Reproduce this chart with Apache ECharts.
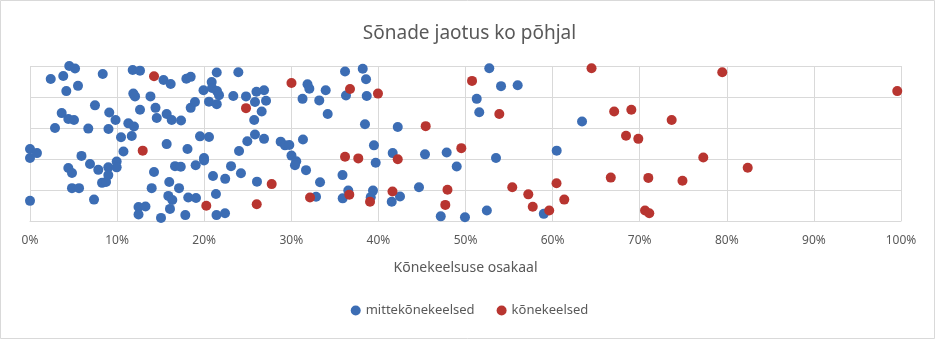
<!DOCTYPE html>
<html>
<head>
<meta charset="utf-8">
<script src="https://cdn.jsdelivr.net/npm/echarts@6/dist/echarts.min.js"></script>
<style>html,body{margin:0;padding:0;background:#fff;}#c{width:939px;height:341px;}</style>
</head>
<body>
<div id="c"></div>
<script>
const titleText = 'Sõnade jaotus ko põhjal';
const xAxisName = 'Kõnekeelsuse osakaal';
const seriesNames = ['mittekõnekeelsed', 'kõnekeelsed'];
const xTicks = [0,10,20,30,40,50,60,70,80,90,100];

const blueX = [0.00,0.00,0.80,0.00,2.38,2.87,3.64,3.82,4.17,4.40,4.40,4.51,4.82,4.82,5.05,5.17,5.51,5.63,5.91,6.69,6.89,7.35,7.46,7.84,8.35,8.27,8.73,8.99,8.99,9.01,9.10,9.82,9.95,9.95,10.45,10.73,11.29,11.68,11.79,11.86,11.94,12.06,12.46,12.46,12.63,12.63,
13.26,13.83,13.97,14.24,14.41,14.55,15.04,15.33,15.69,15.69,15.88,15.99,16.07,16.15,16.34,16.27,16.65,17.11,17.31,17.34,17.83,17.95,18.08,18.17,18.45,18.45,18.94,19.02,19.06,19.52,19.92,19.98,19.98,20.55,20.55,20.86,20.90,21.01,21.35,21.44,21.47,21.44,21.41,21.70,22.39,22.41,23.08,23.34,23.92,24.00,24.22,24.80,24.95,25.74,25.83,25.83,26.00,26.06,26.60,26.87,26.87,27.10,
28.78,29.28,29.77,30.02,30.57,30.42,31.29,31.34,31.69,31.86,32.07,32.84,33.21,33.30,33.95,34.18,35.88,35.90,36.17,36.28,36.54,38.20,38.46,38.58,38.66,39.12,39.38,39.49,39.69,41.53,41.64,42.22,42.48,44.66,45.35,47.16,47.84,48.99,49.94,51.29,51.58,52.45,52.73,53.50,54.08,55.99,58.99,60.47,63.38];
const blueY = [2.32,2.03,2.19,0.65,4.58,3.00,3.48,4.68,4.19,3.29,1.71,5.00,1.55,1.06,3.26,4.92,4.36,1.06,2.10,2.98,1.84,0.69,3.73,1.65,4.74,1.23,1.26,1.73,1.48,2.97,3.50,3.26,1.92,1.73,2.70,2.24,3.15,2.74,4.87,4.11,3.05,4.02,0.45,0.21,4.85,3.59,
0.47,4.02,1.06,1.58,3.65,3.32,0.10,4.55,3.45,2.48,0.81,1.26,0.39,4.42,0.68,3.26,1.77,1.06,1.75,3.24,0.19,4.59,2.32,0.76,4.65,3.65,3.84,1.80,0.74,2.73,4.22,2.03,1.95,2.71,3.85,4.48,4.29,1.45,0.87,4.79,4.19,3.77,0.19,4.06,0.25,1.36,1.77,4.03,4.80,2.26,1.54,4.02,2.57,3.26,2.79,3.84,4.17,1.27,3.53,4.22,2.65,3.88,
2.56,2.44,2.45,2.11,1.93,1.80,3.94,2.63,1.64,4.41,4.27,0.78,3.89,1.25,4.22,3.45,1.48,0.73,4.82,4.05,0.98,4.91,3.12,4.57,4.03,0.77,0.98,2.44,1.88,0.62,2.19,3.03,0.79,1.09,2.15,0.15,2.21,1.76,0.12,3.94,3.51,0.34,4.93,2.03,4.35,4.38,0.23,2.27,3.21];

const redX = [12.94,14.24,20.24,24.80,26.03,27.75,30.02,32.15,36.17,36.66,36.74,37.69,39.04,39.95,41.62,42.22,45.43,47.68,47.93,49.52,50.75,53.88,55.37,57.21,57.72,59.61,60.45,61.34,64.47,66.68,67.07,68.43,69.04,69.84,70.61,71.10,70.99,73.67,74.91,77.30,79.48,82.40,99.57];
const redY = [2.27,4.67,0.49,3.64,0.54,1.19,4.45,0.76,2.07,0.85,4.26,2.02,0.62,4.11,0.95,1.99,3.06,0.52,1.01,2.35,4.52,3.45,1.09,0.86,0.46,0.34,1.22,0.69,4.93,1.40,3.53,2.75,3.59,2.65,0.34,0.25,1.39,3.26,1.30,2.05,4.80,1.72,4.19];

const zip = (xs, ys) => xs.map((x, i) => [x, ys[i]]);
const FONT = 'Noto Sans';
const chart = echarts.init(document.getElementById('c'), null, {renderer: 'canvas'});
chart.setOption({
  backgroundColor: '#ffffff',
  animation: false,
  textStyle: {fontFamily: FONT},
  graphic: [{
    type: 'rect', left: 0, top: 0, z: -10, silent: true,
    shape: {x: 0.5, y: 0.5, width: 934, height: 338},
    style: {fill: '#ffffff', stroke: '#d9d9d9', lineWidth: 1}
  }],
  title: {
    text: titleText, left: 'center', top: 19,
    textStyle: {fontFamily: FONT, fontSize: 19, fontWeight: 'normal', color: '#595959'}
  },
  legend: {
    bottom: 19, left: 'center', itemWidth: 10, itemHeight: 10, itemGap: 22,
    icon: 'circle',
    textStyle: {fontFamily: FONT, fontSize: 13, color: '#595959'},
    data: seriesNames
  },
  grid: {left: 30, right: 38, top: 66, bottom: 120, containLabel: false},
  xAxis: {
    type: 'value', min: 0, max: 100, interval: 10,
    name: xAxisName, nameLocation: 'middle', nameGap: 40,
    nameTextStyle: {fontFamily: FONT, fontSize: 14, color: '#595959'},
    axisLine: {show: true, lineStyle: {color: '#d9d9d9', width: 1}},
    axisTick: {show: false},
    axisLabel: {formatter: '{value}%', margin: 14, fontFamily: FONT, fontSize: 12, color: '#595959'},
    splitLine: {show: true, lineStyle: {color: '#d9d9d9', width: 1}}
  },
  yAxis: {
    type: 'value', min: 0, max: 5, interval: 1,
    axisLine: {show: false}, axisTick: {show: false}, axisLabel: {show: false},
    splitLine: {show: true, lineStyle: {color: '#d9d9d9', width: 1}}
  },
  series: [
    {name: seriesNames[0], type: 'scatter', symbol: 'circle', symbolSize: 10,
     itemStyle: {color: '#3c6db4', opacity: 1}, data: zip(blueX, blueY)},
    {name: seriesNames[1], type: 'scatter', symbol: 'circle', symbolSize: 10,
     itemStyle: {color: '#b83530', opacity: 1}, data: zip(redX, redY)}
  ]
});
</script>
</body>
</html>
